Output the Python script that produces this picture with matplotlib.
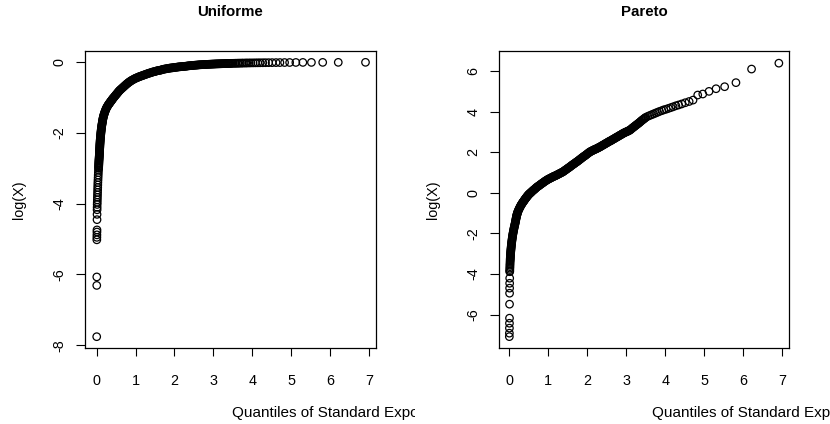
import matplotlib
matplotlib.use("Agg")
import matplotlib.pyplot as plt
from matplotlib.transforms import Bbox, TransformedBbox

plt.rcParams['font.family'] = ['Liberation Sans', 'DejaVu Sans']

# ---------------- data ----------------
titles = ["Uniforme", "Pareto"]
xlabel = "Quantiles of Standard Exponential"
ylabel = "log(X)"
xticks = [0, 1, 2, 3, 4, 5, 6, 7]
yticks_unif = [-8, -6, -4, -2, 0]
yticks_par = [-6, -4, -2, 0, 2, 4, 6]

# ---- Uniforme panel (sorted log values vs exponential quantiles) ----
unif_tail_x = [0.001, 0.002, 0.003, 0.004, 0.005, 0.006, 0.007, 0.008, 0.009, 0.010, 0.011, 0.012, 0.013,
               0.015, 0.017, 0.019, 0.021, 0.023, 0.025, 0.027, 0.029, 0.031, 0.034, 0.037, 0.040, 0.043, 0.047]
unif_tail_y = [-7.76, -6.31, -6.07, -5.02, -4.95, -4.88, -4.80, -4.74, -4.45, -4.30, -4.17, -4.10, -4.02,
               -3.96, -3.89, -3.82, -3.75, -3.68, -3.61, -3.54, -3.47, -3.40, -3.33, -3.26, -3.19, -3.12, -3.05]

unif_steep_y = [-3.000, -2.975, -2.950, -2.925, -2.900, -2.875, -2.850, -2.825, -2.800, -2.775, -2.750, -2.725,
                -2.700, -2.675, -2.650, -2.625, -2.600, -2.575, -2.550, -2.525, -2.500, -2.475, -2.450, -2.425,
                -2.400, -2.375, -2.350, -2.325, -2.300, -2.275, -2.250, -2.225, -2.200, -2.175, -2.150, -2.125,
                -2.100, -2.075, -2.050, -2.025, -2.000, -1.975, -1.950, -1.925, -1.900, -1.875, -1.850, -1.825,
                -1.800, -1.775, -1.750, -1.725, -1.700, -1.675, -1.650, -1.625, -1.600, -1.575, -1.550, -1.525,
                -1.500, -1.475, -1.450, -1.425, -1.400, -1.375, -1.350, -1.325, -1.300]
unif_steep_x = [0.0500, 0.0510, 0.0520, 0.0530, 0.0540, 0.0550, 0.0560, 0.0570, 0.0580, 0.0595, 0.0610, 0.0625,
                0.0640, 0.0655, 0.0670, 0.0685, 0.0700, 0.0710, 0.0720, 0.0730, 0.0740, 0.0755, 0.0770, 0.0785,
                0.0800, 0.0810, 0.0820, 0.0835, 0.0850, 0.0865, 0.0880, 0.0895, 0.0910, 0.0930, 0.0950, 0.0970,
                0.0990, 0.1015, 0.1040, 0.1060, 0.1080, 0.1105, 0.1130, 0.1155, 0.1180, 0.1210, 0.1240, 0.1270,
                0.1300, 0.1335, 0.1370, 0.1410, 0.1450, 0.1490, 0.1520, 0.1560, 0.1600, 0.1650, 0.1700, 0.1760,
                0.1820, 0.1890, 0.1960, 0.2040, 0.2120, 0.2200, 0.2290, 0.2380, 0.2480]

unif_bend_x = [0.258, 0.268, 0.278, 0.29, 0.30, 0.31, 0.32, 0.33, 0.34, 0.35, 0.36, 0.37, 0.38, 0.39, 0.40,
               0.41, 0.42, 0.435, 0.45, 0.465, 0.48, 0.495, 0.51, 0.525, 0.54, 0.555, 0.57, 0.585, 0.60, 0.62,
               0.64, 0.66, 0.68, 0.70, 0.72, 0.74, 0.76, 0.78, 0.80, 0.82, 0.84, 0.86, 0.88, 0.90, 0.925, 0.95,
               0.975, 1.00, 1.025, 1.05, 1.075, 1.10, 1.125, 1.15, 1.175, 1.20, 1.225, 1.25, 1.275, 1.30, 1.325,
               1.35, 1.375, 1.40, 1.425]
unif_bend_y = [-1.28, -1.26, -1.24, -1.22, -1.20, -1.185, -1.17, -1.155, -1.14, -1.125, -1.11, -1.095, -1.08,
               -1.065, -1.05, -1.035, -1.02, -1.00, -0.98, -0.96, -0.94, -0.92, -0.90, -0.88, -0.86, -0.84,
               -0.82, -0.80, -0.785, -0.765, -0.745, -0.725, -0.705, -0.685, -0.665, -0.645, -0.625, -0.605,
               -0.59, -0.57, -0.555, -0.54, -0.525, -0.51, -0.495, -0.48, -0.465, -0.45, -0.44, -0.43, -0.415,
               -0.405, -0.395, -0.385, -0.375, -0.365, -0.355, -0.345, -0.335, -0.325, -0.315, -0.305, -0.30,
               -0.29, -0.28]

unif_flat_x = [1.450, 1.475, 1.500, 1.525, 1.550, 1.575, 1.600, 1.625, 1.650, 1.675, 1.700, 1.725, 1.750,
               1.775, 1.800, 1.825, 1.850, 1.875, 1.900, 1.925, 1.950, 1.975, 2.000, 2.025, 2.050, 2.075,
               2.100, 2.125, 2.150, 2.175, 2.200, 2.225, 2.250, 2.275, 2.300, 2.325, 2.350, 2.375, 2.400,
               2.425, 2.450, 2.475, 2.500, 2.525, 2.550, 2.575, 2.600, 2.625, 2.650, 2.675, 2.700, 2.725,
               2.750, 2.775, 2.800, 2.825, 2.850, 2.875, 2.900, 2.925, 2.950, 2.975, 3.000, 3.025, 3.050,
               3.075, 3.100, 3.125, 3.150, 3.175, 3.200, 3.225, 3.250, 3.275, 3.300, 3.325, 3.350, 3.375,
               3.400, 3.425, 3.450, 3.475]
unif_flat_y = [-0.270, -0.265, -0.260, -0.250, -0.240, -0.235, -0.230, -0.225, -0.220, -0.210, -0.200, -0.195,
               -0.190, -0.185, -0.180, -0.175, -0.170, -0.165, -0.160, -0.158, -0.155, -0.150, -0.145, -0.142,
               -0.140, -0.135, -0.130, -0.128, -0.125, -0.122, -0.120, -0.118, -0.115, -0.112, -0.110, -0.105,
               -0.100, -0.098, -0.095, -0.092, -0.090, -0.088, -0.085, -0.082, -0.080, -0.078, -0.075, -0.072,
               -0.070, -0.068, -0.067, -0.065, -0.064, -0.062, -0.061, -0.060, -0.058, -0.056, -0.055, -0.053,
               -0.052, -0.050, -0.049, -0.048, -0.046, -0.045, -0.044, -0.043, -0.042, -0.041, -0.040, -0.039,
               -0.038, -0.037, -0.036, -0.035, -0.034, -0.033, -0.032, -0.031, -0.030, -0.029]

unif_top_x = [3.51, 3.55, 3.58, 3.62, 3.65, 3.69, 3.73, 3.77, 3.82, 3.86, 3.91, 3.96, 4.02, 4.08, 4.14, 4.20,
              4.27, 4.34, 4.42, 4.51, 4.61, 4.71, 4.83, 4.96, 5.12, 5.30, 5.52, 5.81, 6.21, 6.91]
unif_top_y = [-0.028, -0.027, -0.026, -0.025, -0.024, -0.023, -0.022, -0.021, -0.020, -0.019, -0.018, -0.017,
              -0.016, -0.015, -0.014, -0.013, -0.012, -0.011, -0.010, -0.009, -0.008, -0.007, -0.006, -0.005,
              -0.004, -0.003, -0.0025, -0.002, -0.001, -0.0005]

# ---- Pareto panel ----
par_tail_x = [0.001, 0.002, 0.003, 0.004, 0.005, 0.006, 0.007, 0.008, 0.009, 0.010, 0.011,
              0.012, 0.013, 0.014, 0.016, 0.017, 0.018, 0.020, 0.022]
par_tail_y = [-7.09, -6.92, -6.67, -6.43, -6.18, -5.49, -4.95, -4.70, -4.46, -4.21, -3.89,
              -3.85, -3.78, -3.71, -3.64, -3.57, -3.50, -3.43, -3.36]

par_steep_y = [-3.30, -3.25, -3.20, -3.15, -3.10, -3.05, -3.00, -2.95, -2.90, -2.85, -2.80, -2.75, -2.70,
               -2.65, -2.60, -2.55, -2.50, -2.45, -2.40, -2.35, -2.30, -2.25, -2.20, -2.15, -2.10, -2.05,
               -2.00, -1.95, -1.90, -1.85, -1.80, -1.75, -1.70, -1.65, -1.60, -1.55, -1.50]
par_steep_x = [0.023, 0.0245, 0.026, 0.0275, 0.029, 0.031, 0.033, 0.035, 0.037, 0.0395, 0.042, 0.0445, 0.047,
               0.0495, 0.052, 0.055, 0.058, 0.061, 0.064, 0.0675, 0.071, 0.0745, 0.078, 0.082, 0.086, 0.0905,
               0.095, 0.100, 0.105, 0.110, 0.115, 0.1205, 0.126, 0.132, 0.138, 0.144, 0.150]

par_bend_x = [0.155, 0.160, 0.165, 0.170, 0.175, 0.180, 0.185, 0.190, 0.195, 0.200, 0.205, 0.210, 0.22, 0.23,
              0.24, 0.25, 0.26, 0.27, 0.28, 0.29, 0.30, 0.31, 0.32, 0.33, 0.34, 0.35, 0.36, 0.37, 0.38, 0.39,
              0.40, 0.41, 0.42, 0.43, 0.44, 0.45, 0.46, 0.47, 0.48, 0.49, 0.50, 0.51, 0.525, 0.54, 0.55, 0.565,
              0.58, 0.60, 0.615, 0.63, 0.65, 0.665, 0.68, 0.70]
par_bend_y = [-1.45, -1.40, -1.35, -1.30, -1.25, -1.21, -1.165, -1.12, -1.085, -1.05, -1.015, -0.98, -0.93,
              -0.885, -0.84, -0.80, -0.76, -0.72, -0.685, -0.645, -0.61, -0.58, -0.55, -0.52, -0.49, -0.46,
              -0.435, -0.41, -0.38, -0.35, -0.325, -0.30, -0.27, -0.245, -0.22, -0.195, -0.17, -0.15, -0.125,
              -0.10, -0.08, -0.06, -0.035, -0.01, 0.01, 0.035, 0.065, 0.10, 0.125, 0.15, 0.18, 0.205, 0.235, 0.27]

par_mid_x = [0.72, 0.74, 0.76, 0.78, 0.80, 0.82, 0.84, 0.86, 0.88, 0.90, 0.92, 0.94, 0.96, 0.98, 1.00, 1.02,
             1.04, 1.06, 1.08, 1.10, 1.12, 1.14, 1.16, 1.18, 1.20, 1.22, 1.24, 1.26, 1.28, 1.30, 1.32, 1.34,
             1.36, 1.38, 1.40, 1.42, 1.44, 1.46, 1.48, 1.50, 1.52, 1.54, 1.56, 1.58, 1.60, 1.62, 1.64, 1.66,
             1.68, 1.70, 1.72, 1.74, 1.76, 1.78, 1.80, 1.82, 1.84, 1.86, 1.88, 1.90, 1.92, 1.94, 1.96, 1.98,
             2.00, 2.02, 2.04, 2.06, 2.08, 2.10, 2.12, 2.14, 2.16, 2.18, 2.20, 2.22, 2.24, 2.26, 2.28, 2.30,
             2.32, 2.34, 2.36, 2.38, 2.40, 2.42, 2.44, 2.46, 2.48, 2.50, 2.52, 2.54, 2.56, 2.58, 2.60, 2.62,
             2.64, 2.66, 2.68, 2.70, 2.72, 2.74, 2.76, 2.78, 2.80, 2.82, 2.84, 2.86, 2.88, 2.90, 2.92, 2.94,
             2.96, 2.98, 3.00, 3.02, 3.04, 3.06, 3.08, 3.10, 3.12, 3.14, 3.16, 3.18, 3.20, 3.22, 3.24, 3.26,
             3.28, 3.30, 3.32, 3.34, 3.36, 3.38, 3.40, 3.42, 3.44, 3.46, 3.48, 3.50]
par_mid_y = [0.30, 0.325, 0.35, 0.38, 0.41, 0.44, 0.465, 0.49, 0.52, 0.55, 0.575, 0.60, 0.625, 0.65, 0.67, 0.69,
             0.71, 0.73, 0.75, 0.77, 0.79, 0.81, 0.825, 0.84, 0.86, 0.88, 0.90, 0.92, 0.94, 0.96, 0.98, 1.00,
             1.02, 1.04, 1.07, 1.10, 1.125, 1.15, 1.18, 1.21, 1.235, 1.26, 1.29, 1.32, 1.35, 1.38, 1.405, 1.43,
             1.46, 1.49, 1.515, 1.54, 1.57, 1.60, 1.63, 1.66, 1.69, 1.72, 1.75, 1.78, 1.805, 1.83, 1.86, 1.89,
             1.92, 1.95, 1.98, 2.01, 2.03, 2.05, 2.07, 2.09, 2.11, 2.13, 2.145, 2.16, 2.18, 2.20, 2.22, 2.24,
             2.26, 2.28, 2.305, 2.33, 2.35, 2.37, 2.395, 2.42, 2.44, 2.46, 2.485, 2.51, 2.53, 2.55, 2.57, 2.59,
             2.615, 2.64, 2.66, 2.68, 2.705, 2.73, 2.75, 2.77, 2.795, 2.82, 2.84, 2.86, 2.885, 2.91, 2.93, 2.95,
             2.97, 2.99, 3.005, 3.02, 3.04, 3.06, 3.08, 3.10, 3.135, 3.17, 3.20, 3.23, 3.26, 3.29, 3.32, 3.35,
             3.38, 3.41, 3.44, 3.47, 3.505, 3.54, 3.57, 3.60, 3.63, 3.66, 3.69, 3.72]

par_top_x = [3.55, 3.60, 3.65, 3.70, 3.75, 3.80, 3.85, 3.91, 3.96, 4.02, 4.08, 4.14, 4.20, 4.27, 4.34, 4.42,
             4.51, 4.61, 4.71, 4.83, 4.96, 5.12, 5.30, 5.52, 5.81, 6.21, 6.91]
par_top_y = [3.77, 3.81, 3.85, 3.89, 3.93, 3.97, 4.01, 4.05, 4.09, 4.12, 4.16, 4.20, 4.24, 4.29, 4.33, 4.38,
             4.44, 4.50, 4.57, 4.82, 4.87, 5.00, 5.13, 5.23, 5.43, 6.10, 6.39]

unif_x = unif_tail_x + unif_steep_x + unif_bend_x + unif_flat_x + unif_top_x
unif_y = unif_tail_y + unif_steep_y + unif_bend_y + unif_flat_y + unif_top_y
par_x = par_tail_x + par_steep_x + par_bend_x + par_mid_x + par_top_x
par_y = par_tail_y + par_steep_y + par_bend_y + par_mid_y + par_top_y

# ---------------- figure ----------------
W, H = 830, 424
fig = plt.figure(figsize=(W / 100, H / 100), dpi=100)
fig.patch.set_facecolor('white')

def px_axes(l, t, r, b):
    return [l / W, 1 - b / H, (r - l) / W, (b - t) / H]

panels = [
    dict(rect=px_axes(85, 51, 376, 348), x=unif_x, y=unif_y, title=titles[0],
         xlim=(-0.30, 7.18), ylim=(-8.08, 0.32), yticks=yticks_unif, ylab_x=19, xlab_x=232, clip=415),
    dict(rect=px_axes(499, 51, 789, 348), x=par_x, y=par_y, title=titles[1],
         xlim=(-0.264, 7.17), ylim=(-7.65, 6.99), yticks=yticks_par, ylab_x=433, xlab_x=652, clip=None),
]

FS = 10.4
for p in panels:
    ax = fig.add_axes(p['rect'])
    ax.scatter(p['x'], p['y'], s=29, facecolors='none', edgecolors='black', linewidths=0.9)
    ax.set_xlim(*p['xlim'])
    ax.set_ylim(*p['ylim'])
    ax.set_xticks(xticks)
    ax.set_yticks(p['yticks'])
    ax.set_xticklabels([str(v) for v in xticks], fontsize=FS)
    ax.set_yticklabels([str(v) for v in p['yticks']], fontsize=FS, rotation=90, va='center')
    ax.tick_params(axis='x', direction='out', length=6, width=0.8, pad=13)
    ax.tick_params(axis='y', direction='out', length=6.5, width=0.8, pad=7)
    for s in ax.spines.values():
        s.set_linewidth(0.9)
        s.set_color('black')
    l, b, w, h = p['rect']
    cx = (l + w / 2)
    fig.text(cx, 1 - 12 / H, p['title'], ha='center', va='center', fontsize=10.8, fontweight='bold')
    fig.text(p['ylab_x'] / W, b + h / 2, ylabel, ha='center', va='center', rotation=90, fontsize=FS)
    t = fig.text(p['xlab_x'] / W, 1 - 413 / H, xlabel, ha='left', va='center', fontsize=11)
    if p['clip'] is not None:
        t.set_clip_box(TransformedBbox(Bbox([[0, 0], [p['clip'] / W, 1]]), fig.transFigure))
        t.set_clip_on(True)

fig.savefig('out.png', dpi=100, facecolor='white')
